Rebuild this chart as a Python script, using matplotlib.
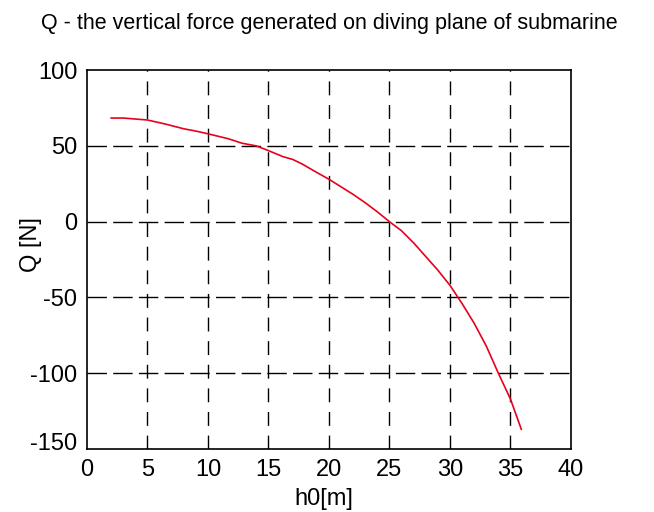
import matplotlib
matplotlib.use("Agg")
import matplotlib.pyplot as plt
import matplotlib.transforms as mtransforms

plt.rcParams['font.family'] = ['Liberation Sans', 'DejaVu Sans']

# values
h0 = [2, 3, 5, 6.5, 8, 9, 10, 11.7, 12.8, 14, 15, 16.2, 17, 17.8, 18.9, 20,
      21, 22, 23, 24, 25, 26, 27, 28, 29, 30, 31, 32, 33, 34, 35, 35.9]
Q = [68.4, 68.4, 67.1, 64.4, 61.3, 59.8, 58, 54.7, 51.8, 50, 46.9, 42.9, 41.1, 38, 32.9, 28,
     23, 18, 12.5, 6.5, 0, -6, -14, -23, -32, -42, -54, -67, -82, -100, -117, -137]

xticks = [0, 5, 10, 15, 20, 25, 30, 35, 40]
yticks = [-150, -100, -50, 0, 50, 100]

fig = plt.figure(figsize=(6.54, 5.12), dpi=100)
ax = fig.add_axes([0.133, 0.123, 0.740, 0.740])

for x in xticks[1:-1]:
    ax.axvline(x, color='black', lw=1.0, dashes=(10, 7), zorder=1)
for y in yticks[1:-1]:
    ax.axhline(y, color='black', lw=1.0, dashes=(14, 4.5), zorder=1)

ax.plot(h0, Q, color='#e8001c', lw=1.2, zorder=3)

ax.set_xlim(0, 40)
ax.set_ylim(-150, 100)
ax.set_xticks(xticks)
ax.set_yticks(yticks)
ax.set_yticklabels([str(v) for v in yticks])
ax.tick_params(length=0, labelsize=17)
ax.tick_params(axis='x', pad=7.5)
ax.tick_params(axis='y', pad=7)
for s in ax.spines.values():
    s.set_linewidth(1.2)

# the bottom y label sits a little higher, like the original
lab = ax.get_yticklabels()[0]
lab.set_transform(lab.get_transform() +
                  mtransforms.ScaledTranslation(0, 8 / 100, fig.dpi_scale_trans))

ax.set_title('Q - the vertical force generated on diving plane of submarine',
             fontsize=15.5, pad=29.5)
ax.set_xlabel('h0[m]', fontsize=17)
ax.set_ylabel('Q [N]', fontsize=17)
ax.xaxis.set_label_coords(0.49, -0.103)
ax.yaxis.set_label_coords(-0.093, 0.54)

fig.savefig('out.png', dpi=100)
